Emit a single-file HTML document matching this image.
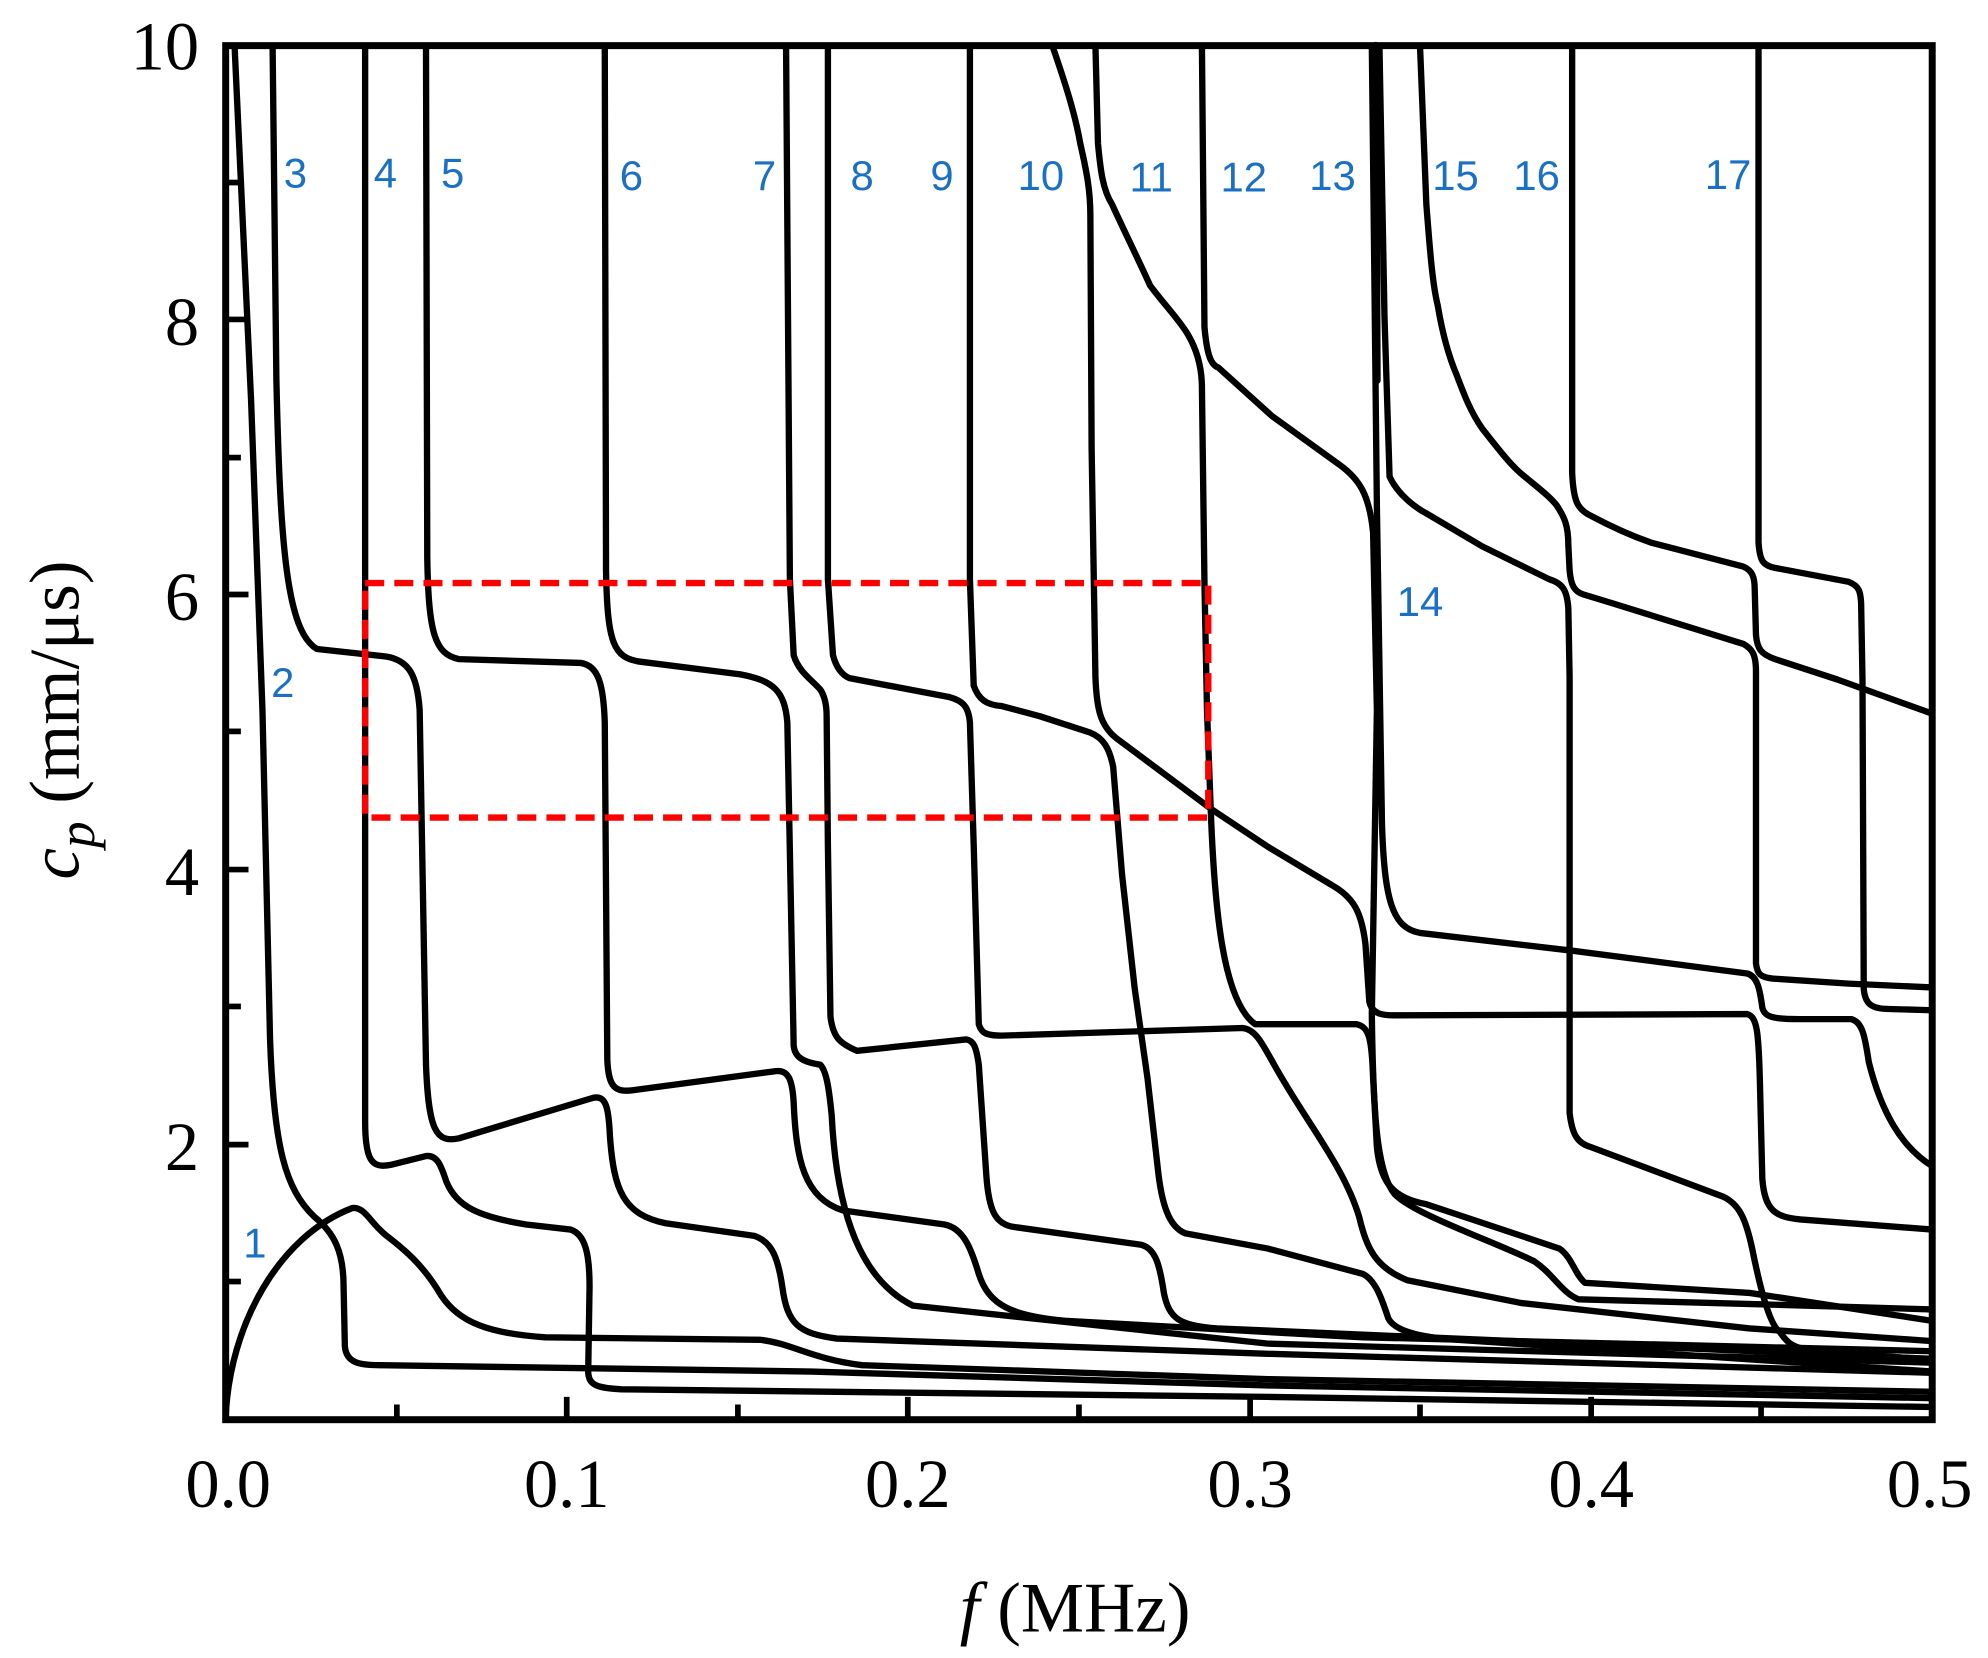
<!DOCTYPE html>
<html><head><meta charset="utf-8"><style>
html,body{margin:0;padding:0;background:#fff;}
svg{display:block;}
</style></head><body>
<svg width="1988" height="1658" viewBox="0 0 1568 1308" preserveAspectRatio="none" xmlns="http://www.w3.org/2000/svg">
<rect width="1568" height="1308" fill="#fff"/>
<g fill="none" stroke="#000" stroke-width="5" stroke-linejoin="round" stroke-linecap="round">
<path d="M178,1118 C181,1045 220,975 278,953 C288,952 292,965 305,975 C322,988 335,1000 348,1022 C362,1043 385,1052 430,1055 L600,1057 C625,1060 640,1072 680,1077 L1000,1088 L1524,1098"/>
<path d="M185,36 L198,315 L207,560 L213,820 C216,905 225,938 248,960 C264,973 271,988 271,1015 L272,1062 C273,1075 283,1077 300,1077 L640,1082 L1000,1093 L1524,1103"/>
<path d="M215,36 L218,300 C221,430 226,498 250,512 L305,518 C322,521 329,532 331,560 L336,840 C338,892 344,902 362,898 L468,866 C478,864 480,874 481,895 C484,940 492,958 525,965 L595,975 C610,980 614,995 617,1015 C621,1045 630,1052 660,1056 L1000,1068 L1524,1083"/>
<path d="M288,36 L288,885 C288,915 293,922 308,919 L336,912 C345,911 348,920 352,932 C360,952 378,960 415,966 L450,970 C462,974 465,990 465,1015 L464,1078 C463,1092 468,1095 490,1096 L1000,1102 L1524,1110"/>
<path d="M336,36 L337,440 C338,500 343,516 362,520 L458,523 C472,525 476,540 477,570 L479,836 C480,858 485,862 500,860 L612,845 C622,844 625,852 626,870 C628,915 634,945 665,955 L745,966 C760,969 766,985 772,1005 C780,1030 798,1038 840,1042 L1075,1055 L1524,1066"/>
<path d="M477,36 L478,450 C479,508 484,519 505,522 L584,532 C610,537 619,545 621,570 L626,825 C627,835 635,838 647,840 C652,845 654,860 656,880 C660,960 680,1010 720,1030 L1000,1060 L1524,1075"/>
<path d="M620,36 L623,457 L626,517 C630,530 640,536 647,544 C651,550 652,558 652,565 L653,667 L655,802 C657,818 662,823 676,829 L762,820 C768,821 770,826 772,840 L778,928 C780,955 785,966 800,968 L900,982 C912,985 915,1000 918,1020 C922,1040 930,1046 960,1048 L1524,1072"/>
<path d="M653,36 L653,457 L657,517 C660,528 665,533 670,535 L749,550 C760,553 764,558 765,570 L768,667 L772,808 C774,815 778,817 790,817 L980,811 C990,812 995,822 1005,840 C1030,885 1060,920 1072,960 C1078,985 1085,1000 1110,1010 L1200,1028 L1380,1048 L1524,1058"/>
<path d="M765,36 L765,457 L768,541 C772,552 778,556 790,557 L820,565 L860,578 C870,582 875,590 878,605 L885,690 L895,780 L905,850 L913,920 C916,950 922,968 935,973 L1000,985 L1075,1005 C1085,1010 1090,1025 1095,1040 C1100,1050 1120,1055 1150,1057 L1524,1082"/>
<path d="M830,36 C840,65 848,90 852,113 C857,135 860,150 860,170 L861,354 L864,534 C865,560 868,572 880,582 L955,638 L1000,668 L1050,698 C1068,708 1074,720 1077,745 L1080,790 C1082,800 1090,801 1100,801 L1378,800 C1386,802 1387,815 1388,850 L1390,930 C1392,955 1400,960 1420,962 L1524,970"/>
<path d="M864,36 L866,113 C868,135 870,150 877,161 C888,185 898,205 907,225 C918,240 930,252 937,264 C944,276 948,290 948,306 L950,460 L952,560 L955,640 C958,720 965,790 990,808 L1070,808 C1080,810 1082,820 1083,850 L1086,905 C1089,935 1100,945 1125,950 L1230,985 C1240,992 1242,1005 1250,1012 L1380,1020 L1524,1042"/>
<path d="M948,36 L950,258 C952,280 955,288 961,290 L1003,328 L1057,367 C1072,378 1080,390 1083,420 L1086,560 L1082,800 C1083,880 1086,925 1100,942 C1115,958 1180,980 1210,995 C1225,1005 1232,1020 1245,1025 L1389,1029 L1524,1033"/>
<path d="M1088,36 L1092,250 L1096,376 C1100,385 1110,397 1125,405 L1169,431 L1222,457 C1232,460 1236,465 1237,480 L1238,534 L1238,878 C1240,895 1244,902 1255,905 L1359,944 C1372,950 1377,962 1382,985 C1387,1010 1395,1045 1404,1051 C1410,1060 1415,1064 1430,1065 L1524,1073"/>
<path d="M1082,36 L1086,400 L1090,650 C1092,710 1098,732 1120,736 L1240,750 L1378,768 C1386,770 1388,780 1390,795 C1392,803 1400,804 1420,804 L1460,804 C1469,806 1471,818 1474,838 C1484,878 1500,905 1524,920"/>
<path d="M1085,36 L1086,300" stroke-width="6"/>
<path d="M1120,36 L1125,161 C1128,200 1130,225 1134,241 C1138,265 1143,282 1149,296 C1155,312 1160,325 1169,338 C1180,352 1190,365 1199,373 C1212,384 1223,392 1228,399 C1234,408 1237,415 1237,430 L1238,450 C1239,462 1242,467 1249,469 L1272,476 L1375,508 C1382,512 1385,516 1385,530 L1385,760 C1386,768 1388,771 1398,772 L1458,776 L1524,779"/>
<path d="M1240,36 L1240,373 C1241,395 1244,402 1255,407 C1270,415 1285,422 1302,428 L1375,447 C1382,450 1384,455 1384,465 L1385,501 C1386,512 1389,516 1400,520 L1449,536 L1524,563"/>
<path d="M1387,36 L1387,428 C1388,442 1390,446 1400,448 L1458,459 C1466,462 1468,466 1468,480 L1469,536 L1470,780 C1471,792 1476,796 1490,796 L1524,797"/>
</g>
<rect x="288" y="460" width="665" height="185" fill="none" stroke="#ff0000" stroke-width="5" stroke-dasharray="15,8"/>
<rect x="178" y="36" width="1346" height="1084" fill="none" stroke="#000" stroke-width="5.5"/>
<g stroke="#000" stroke-width="4.5">
<line x1="178" y1="903" x2="196" y2="903"/><line x1="178" y1="686" x2="196" y2="686"/>
<line x1="178" y1="469" x2="196" y2="469"/><line x1="178" y1="252" x2="196" y2="252"/>
<line x1="178" y1="1011" x2="190" y2="1011"/><line x1="178" y1="794" x2="190" y2="794"/>
<line x1="178" y1="577" x2="190" y2="577"/><line x1="178" y1="361" x2="190" y2="361"/>
<line x1="178" y1="144" x2="190" y2="144"/>
<line x1="447" y1="1120" x2="447" y2="1102"/><line x1="716" y1="1120" x2="716" y2="1102"/>
<line x1="986" y1="1120" x2="986" y2="1102"/><line x1="1255" y1="1120" x2="1255" y2="1102"/>
<line x1="313" y1="1120" x2="313" y2="1108"/><line x1="582" y1="1120" x2="582" y2="1108"/>
<line x1="851" y1="1120" x2="851" y2="1108"/><line x1="1120" y1="1120" x2="1120" y2="1108"/>
<line x1="1389" y1="1120" x2="1389" y2="1108"/>
</g>
<g font-family="Liberation Serif, serif" font-size="54" fill="#000">
<g text-anchor="end">
<text x="157" y="55">10</text><text x="157" y="272">8</text><text x="157" y="489">6</text>
<text x="157" y="706">4</text><text x="157" y="923">2</text>
</g>
<g text-anchor="middle">
<text x="180" y="1189">0.0</text><text x="447" y="1189">0.1</text><text x="716" y="1189">0.2</text>
<text x="986" y="1189">0.3</text><text x="1255" y="1189">0.4</text><text x="1522" y="1189">0.5</text>
</g>
<text x="848" y="1287" text-anchor="middle" font-size="56"><tspan font-style="italic">f</tspan> (MHz)</text>
<text transform="translate(62,568) rotate(-90)" text-anchor="middle" font-size="56"><tspan font-style="italic">c</tspan><tspan font-style="italic" font-size="42" dy="12">p</tspan><tspan dy="-12"> (mm/μs)</tspan></text>
</g>
<g font-family="Liberation Sans, sans-serif" font-size="33" fill="#1a70c4" text-anchor="middle">
<text x="201" y="992">1</text><text x="223" y="550">2</text><text x="233" y="148">3</text>
<text x="304" y="148">4</text><text x="357" y="148">5</text><text x="498" y="150">6</text>
<text x="603" y="150">7</text><text x="680" y="150">8</text><text x="743" y="150">9</text>
<text x="821" y="150">10</text><text x="908" y="151">11</text><text x="981" y="151">12</text>
<text x="1051" y="150">13</text><text x="1120" y="486">14</text><text x="1148" y="150">15</text>
<text x="1212" y="150">16</text><text x="1363" y="149">17</text>
</g>
</svg>
</body></html>
